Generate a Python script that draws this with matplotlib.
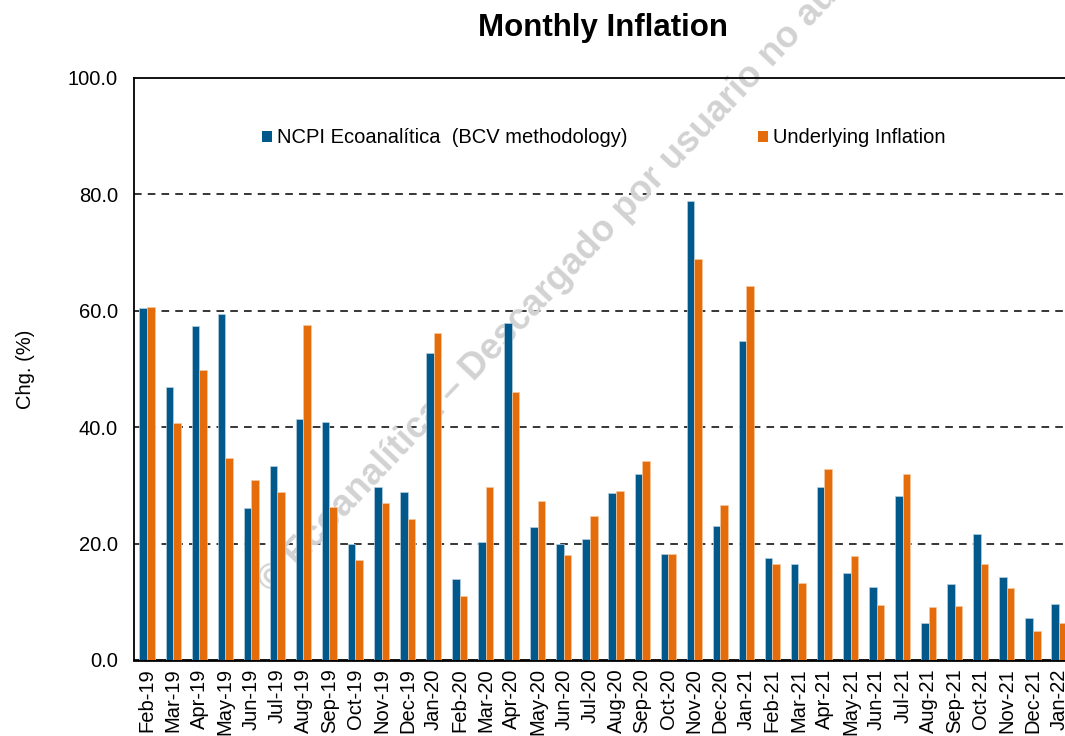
import numpy as np
import matplotlib
matplotlib.use('Agg')
import matplotlib.pyplot as plt
from matplotlib.patches import Patch

plt.rcParams['font.family'] = ['Liberation Sans', 'DejaVu Sans']

# data
months = ['Feb-19', 'Mar-19', 'Apr-19', 'May-19', 'Jun-19', 'Jul-19', 'Aug-19', 'Sep-19',
          'Oct-19', 'Nov-19', 'Dec-19', 'Jan-20', 'Feb-20', 'Mar-20', 'Apr-20', 'May-20',
          'Jun-20', 'Jul-20', 'Aug-20', 'Sep-20', 'Oct-20', 'Nov-20', 'Dec-20', 'Jan-21',
          'Feb-21', 'Mar-21', 'Apr-21', 'May-21', 'Jun-21', 'Jul-21', 'Aug-21', 'Sep-21',
          'Oct-21', 'Nov-21', 'Dec-21', 'Jan-22']
ncpi = [60.4, 46.9, 57.3, 59.5, 26.1, 33.3, 41.4, 40.9, 20.0, 29.8, 28.9, 52.8,
        13.9, 20.2, 57.9, 22.8, 19.9, 20.8, 28.7, 32.0, 18.2, 78.9, 23.0, 54.8,
        17.5, 16.5, 29.7, 14.9, 12.6, 28.2, 6.3, 13.0, 21.7, 14.2, 7.2, 9.6]
underlying = [60.7, 40.8, 49.9, 34.7, 31.0, 28.9, 57.5, 26.2, 17.2, 27.0, 24.3, 56.2,
              11.0, 29.7, 46.0, 27.3, 18.0, 24.7, 29.0, 34.2, 18.2, 68.9, 26.6, 64.3,
              16.5, 13.2, 32.8, 17.8, 9.4, 31.9, 9.1, 9.3, 16.5, 12.3, 5.0, 6.4]
series_names = ['NCPI Ecoanalítica  (BCV methodology)', 'Underlying Inflation']
colors = ['#00588B', '#E46C0A']

fig = plt.figure(figsize=(10.65, 7.36), dpi=100)
ax = fig.add_axes([0.1258, 0.1033, 0.8808, 0.7908])

x = np.arange(len(months))
w = 0.29
ax.bar(x - w / 2, ncpi, w, color=colors[0], edgecolor='#b8cfe0', linewidth=0.5, zorder=3)
ax.bar(x + w / 2, underlying, w, color=colors[1], edgecolor='#f5c8a0', linewidth=0.5, zorder=3)

ax.set_xlim(-0.5, len(months) - 0.5)
ax.set_ylim(0, 100)
ax.set_yticks([0, 20, 40, 60, 80, 100])
ax.set_yticklabels(['%.1f' % v for v in [0, 20, 40, 60, 80, 100]])
ax.set_xticks(x)
ax.set_xticklabels(months, rotation=90, va='top')
ax.tick_params(axis='y', length=0, pad=11.5, labelsize=14.5)
ax.tick_params(axis='x', length=0, pad=6, labelsize=14.5)

for v in [20, 40, 60, 80]:
    ax.axhline(v, color='black', linestyle=(0, (5, 4)), linewidth=1.1, zorder=1)
for s in ['left', 'top', 'right']:
    ax.spines[s].set_linewidth(1.3)
ax.spines['bottom'].set_linewidth(2)

ax.set_ylabel('Chg. (%)', fontsize=14.5, labelpad=24)
ax.set_title('Monthly Inflation', fontsize=22.5, fontweight='bold', pad=30)

handles = [Patch(facecolor=c) for c in colors]
ax.legend(handles, series_names, ncol=2, loc='center', bbox_to_anchor=(0.501, 0.897),
          frameon=False, fontsize=14.5, handlelength=0.5, handleheight=0.5,
          handletextpad=0.25, columnspacing=6.5)

# watermark
ax.text(0.2554, 0.1916, '© Ecoanalítica – Descargado por usuario no autorizado',
        transform=fig.transFigure, rotation=46.5, rotation_mode='anchor',
        ha='left', va='baseline', fontsize=26.5, fontweight='bold',
        color='#d2d2d2', clip_on=False, zorder=2)

fig.savefig('out.png', dpi=100)
